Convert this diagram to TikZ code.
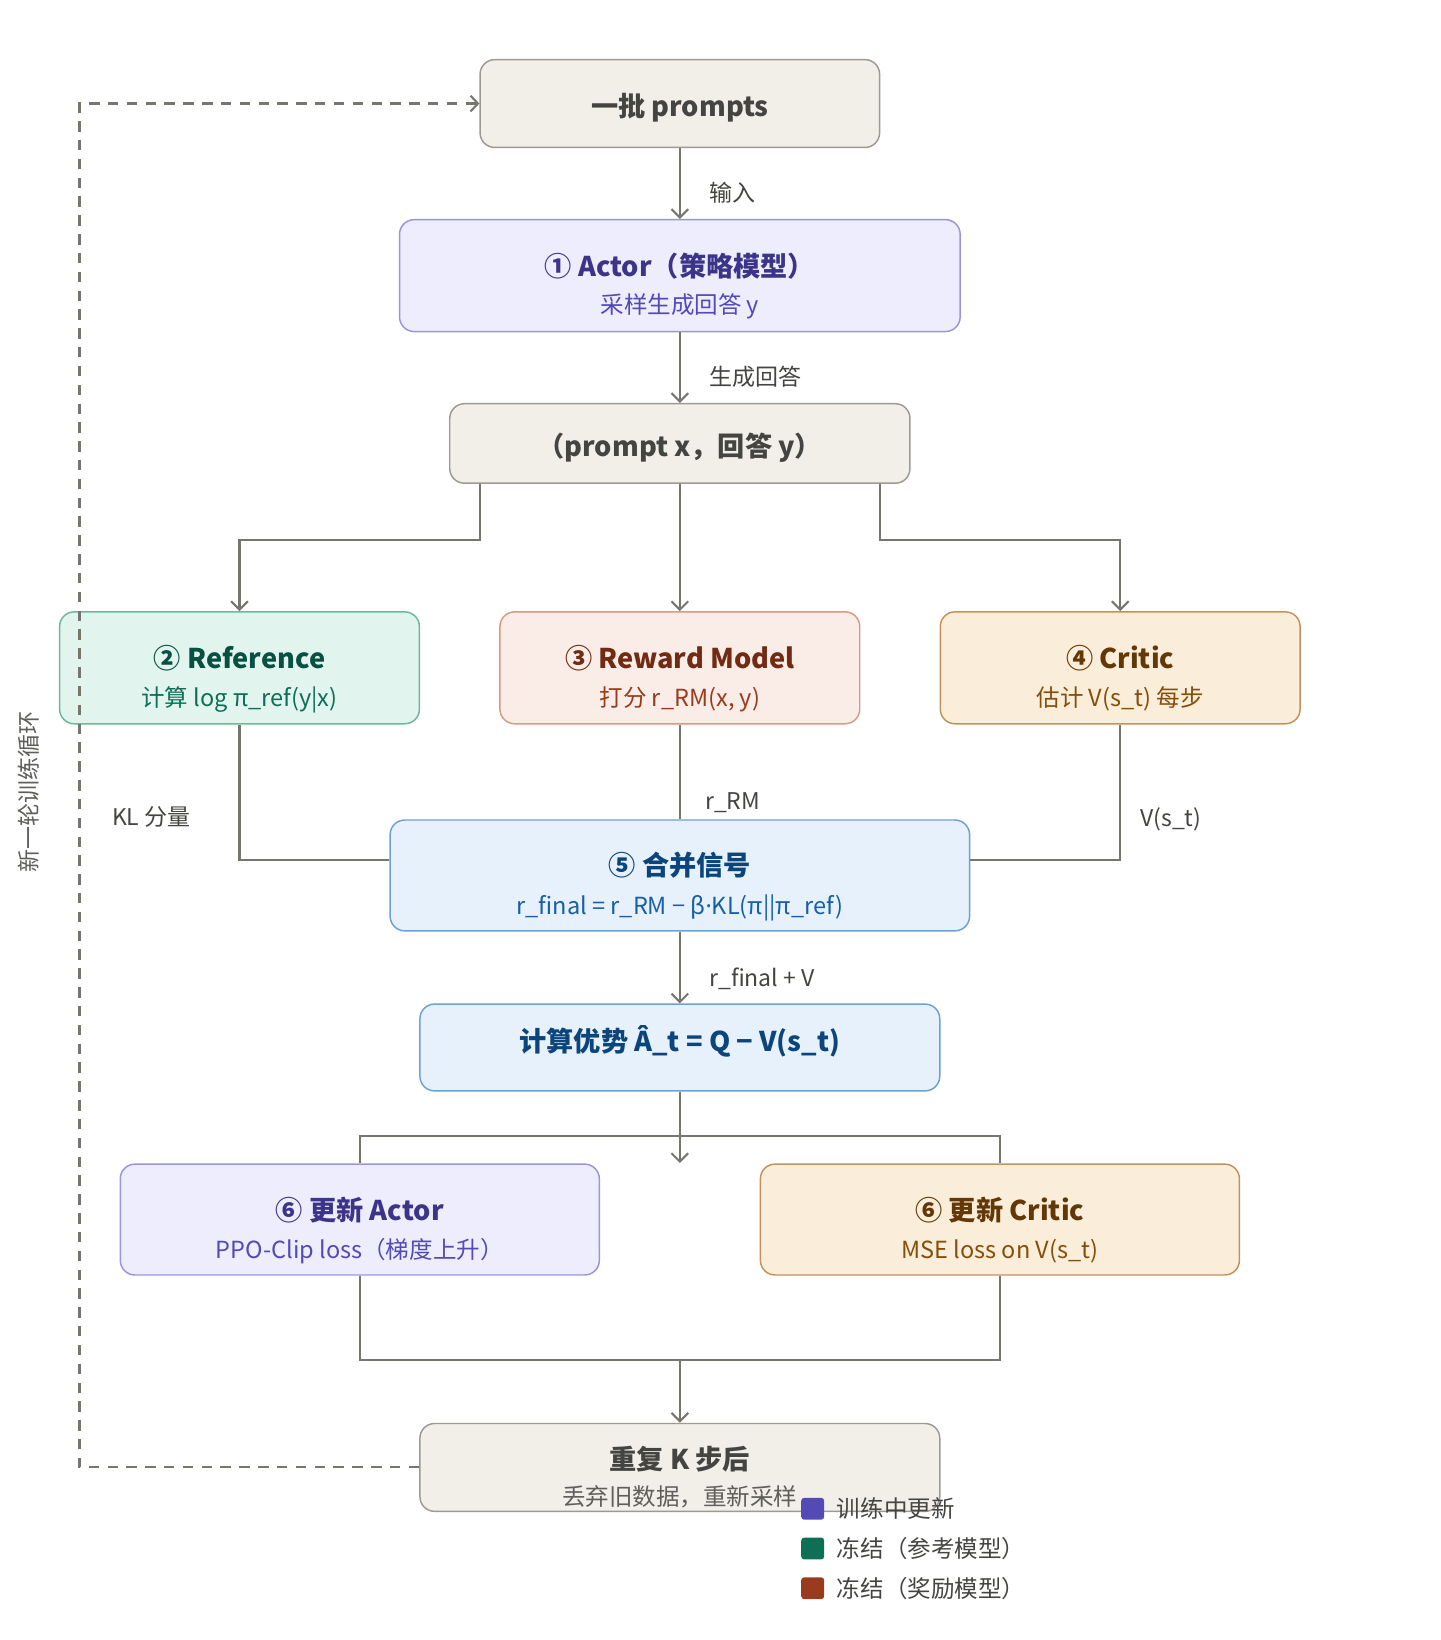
\documentclass[tikz,border=0pt]{standalone}
\usepackage{fontspec}
\setmainfont{Noto Sans CJK SC}
\newfontfamily\latinfont{Noto Sans}
\usetikzlibrary{arrows.meta,calc}
\definecolor{lineC}{HTML}{76766F}
\definecolor{neuF}{HTML}{F1EFE8}
\definecolor{neuB}{HTML}{9C9A92}
\definecolor{neuT}{HTML}{444441}
\definecolor{neuS}{HTML}{5F5E5A}
\definecolor{purF}{HTML}{EEEDFE}
\definecolor{purB}{HTML}{9A93E0}
\definecolor{purT}{HTML}{3C3489}
\definecolor{purS}{HTML}{534AB7}
\definecolor{grnF}{HTML}{E1F5EE}
\definecolor{grnB}{HTML}{6DB89C}
\definecolor{grnT}{HTML}{085041}
\definecolor{grnS}{HTML}{0F6E56}
\definecolor{corF}{HTML}{FAECE7}
\definecolor{corB}{HTML}{D69A86}
\definecolor{corT}{HTML}{712B13}
\definecolor{corS}{HTML}{993C1D}
\definecolor{ambF}{HTML}{FAEEDA}
\definecolor{ambB}{HTML}{C2925A}
\definecolor{ambT}{HTML}{633806}
\definecolor{ambS}{HTML}{854F0B}
\definecolor{bluF}{HTML}{E6F1FB}
\definecolor{bluB}{HTML}{6F9FD3}
\definecolor{bluT}{HTML}{0C447C}
\definecolor{bluS}{HTML}{185FA5}
\tikzset{
  box/.style={draw, rounded corners=14pt, line width=1.4pt, inner sep=0pt},
  neubox/.style={box, fill=neuF, draw=neuB},
  purbox/.style={box, fill=purF, draw=purB},
  grnbox/.style={box, fill=grnF, draw=grnB},
  corbox/.style={box, fill=corF, draw=corB},
  ambbox/.style={box, fill=ambF, draw=ambB},
  blubox/.style={box, fill=bluF, draw=bluB},
  ttl/.style={anchor=base, inner sep=0pt, font=\fontsize{26}{30}\selectfont\bfseries},
  sub/.style={anchor=base, inner sep=0pt, font=\fontsize{22.5}{27}\selectfont},
  elab/.style={anchor=base west, inner sep=0pt, text=neuT, font=\fontsize{22}{26}\selectfont},
  flow/.style={draw=lineC, line width=2pt},
  arr/.style={flow, -{Straight Barb[length=8pt,width=16pt,line width=2pt]}},
  loop/.style={draw=lineC, line width=2pt, dash pattern=on 10pt off 8pt, -{Straight Barb[length=7pt,width=15pt,line width=2pt]}},
  legsq/.style={rounded corners=3pt, minimum width=22pt, minimum height=21pt, inner sep=0pt},
}
\begin{document}
\begin{tikzpicture}[x=1pt,y=1pt]
\useasboundingbox (0,0) rectangle (1377,-1568);

% boxes
\node[neubox, minimum width=382pt, minimum height=84pt] (prompts) at (650,-99) {};
\node[purbox, minimum width=536pt, minimum height=107pt] (actor) at (650,-263.5) {};
\node[neubox, minimum width=440pt, minimum height=76pt] (pair) at (650,-424) {};
\node[grnbox, minimum width=344pt, minimum height=107pt] (ref) at (229,-638.5) {};
\node[corbox, minimum width=344pt, minimum height=107pt] (rm) at (650,-638.5) {};
\node[ambbox, minimum width=344pt, minimum height=107pt] (critic) at (1071,-638.5) {};
\node[blubox, minimum width=554pt, minimum height=106pt] (merge) at (650,-837) {};
\node[blubox, minimum width=497pt, minimum height=83pt] (adv) at (650,-1001.5) {};
\node[purbox, minimum width=458pt, minimum height=106pt] (ua) at (344,-1166) {};
\node[ambbox, minimum width=458pt, minimum height=106pt] (uc) at (956,-1166) {};
\node[neubox, minimum width=497pt, minimum height=84pt] (rep) at (650,-1403) {};

% texts
\node[ttl, text=neuT] (prompts-t) at ([yshift=-12pt]prompts.center) {一批 prompts};
\node[ttl, text=purT] (actor-t) at ([yshift=-0.5pt]actor.center) {① Actor（策略模型）};
\node[sub, text=purS] (actor-s) at ([yshift=-36.5pt]actor.center) {采样生成回答 y};
\node[ttl, text=neuT] (pair-t) at ([yshift=-12pt]pair.center) {（prompt x，回答 y）};
\node[ttl, text=grnT] (ref-t) at ([yshift=-0.5pt]ref.center) {② Reference};
\node[sub, text=grnS] (ref-s) at ([yshift=-36.5pt]ref.center) {计算 log π\_ref(y|x)};
\node[ttl, text=corT] (rm-t) at ([yshift=-0.5pt]rm.center) {③ Reward Model};
\node[sub, text=corS] (rm-s) at ([yshift=-36.5pt]rm.center) {打分 r\_RM(x, y)};
\node[ttl, text=ambT] (critic-t) at ([yshift=-0.5pt]critic.center) {④ Critic};
\node[sub, text=ambS] (critic-s) at ([yshift=-36.5pt]critic.center) {估计 V(s\_t) 每步};
\node[ttl, text=bluT] (merge-t) at ([yshift=0pt]merge.center) {⑤ 合并信号};
\node[sub, text=bluS] (merge-s) at ([yshift=-37pt]merge.center) {r\_final = r\_RM − β{\latinfont ·}KL(π||π\_ref)};
\node[ttl, text=bluT] (adv-t) at ([yshift=-3.5pt]adv.center) {计算优势 Â\_t = Q − V(s\_t)};
\node[ttl, text=purT] (ua-t) at ([yshift=-1pt]ua.center) {⑥ 更新 Actor};
\node[sub, text=purS] (ua-s) at ([yshift=-37pt]ua.center) {PPO-Clip loss（梯度上升）};
\node[ttl, text=ambT] (uc-t) at ([yshift=-1pt]uc.center) {⑥ 更新 Critic};
\node[sub, text=ambS] (uc-s) at ([yshift=-37pt]uc.center) {MSE loss on V(s\_t)};
\node[ttl, text=neuT] (rep-t) at ([yshift=-2pt]rep.center) {重复 K 步后};
\node[sub, text=neuS] (rep-s) at ([yshift=-36pt]rep.center) {丢弃旧数据，重新采样};

% connectors
\draw[arr] (prompts.south) -- (actor.north);
\node[elab] (l-in) at (678,-193) {输入};
\draw[arr] (actor.south) -- (pair.north);
\node[elab] (l-gen) at (678,-369) {生成回答};

\draw[arr] ([xshift=-191pt]pair.south) -- ([xshift=-191pt,yshift=-54pt]pair.south) -| (ref.north);
\draw[arr] (pair.south) -- (rm.north);
\draw[arr] ([xshift=191pt]pair.south) -- ([xshift=191pt,yshift=-54pt]pair.south) -| (critic.north);

\draw[flow] (ref.south) |- ([yshift=15pt]merge.west);
\node[elab] (l-kl) at (107,-789) {KL 分量};
\draw[flow] (rm.south) -- (merge.north);
\node[elab] (l-rm) at (674,-774) {r\_RM};
\draw[flow] (critic.south) |- ([yshift=15pt]merge.east);
\node[elab] (l-v) at (1090,-790) {V(s\_t)};

\draw[arr] (merge.south) -- (adv.north);
\node[elab] (l-rf) at (678,-943) {r\_final + V};

\coordinate (split) at (650,-1086);
\coordinate (tip) at (650,-1112);
\draw[arr] (adv.south) -- (tip);
\draw[flow] (ua.north) |- (split) -| (uc.north);

\coordinate (join) at (650,-1300);
\draw[flow] (ua.south) |- (join) -| (uc.south);
\draw[arr] (join) -- (rep.north);

\coordinate (lc) at (76,-1403);
\draw[loop] (rep.west) -- (lc) |- (prompts.west);
\node[rotate=90, anchor=center, inner sep=0pt, text=neuS, font=\fontsize{22}{26}\selectfont] (l-loop) at (28,-757) {新一轮训练循环};

% legend
\node[legsq, fill=purS] (lg1) at (777,-1442.5) {};
\node[legsq, fill=grnS] (lg2) at (777,-1480.5) {};
\node[legsq, fill=corS] (lg3) at (777,-1518.5) {};
\node[elab, font=\fontsize{22.5}{27}\selectfont] (lg1-t) at (800,-1451) {训练中更新};
\node[elab, font=\fontsize{22.5}{27}\selectfont] (lg2-t) at (800,-1489) {冻结（参考模型）};
\node[elab, font=\fontsize{22.5}{27}\selectfont] (lg3-t) at (800,-1527) {冻结（奖励模型）};
\end{tikzpicture}
\end{document}
